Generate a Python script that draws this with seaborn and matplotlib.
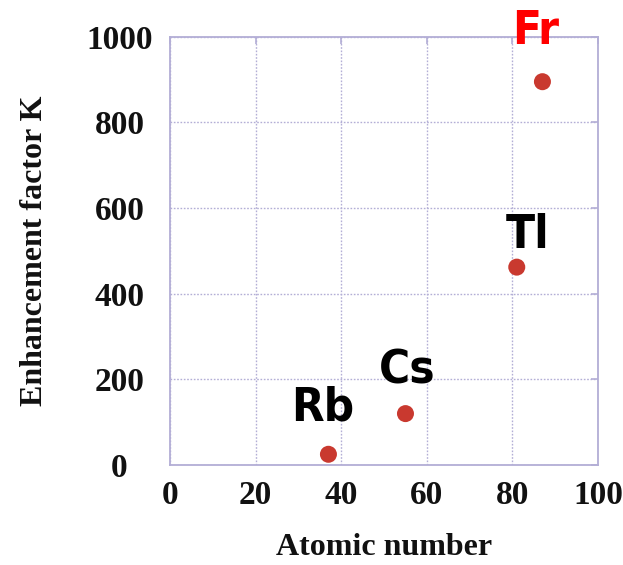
import matplotlib
matplotlib.use("Agg")
import matplotlib.pyplot as plt
import seaborn as sns
import pandas as pd

# Enhancement factor K versus atomic number
elements = ["Rb", "Cs", "Tl", "Fr"]
atomic_number = [37, 55, 81, 87]
enhancement = [25, 120, 462, 895]
label_colors = ["black", "black", "black", "#ff0000"]
# label anchor positions in data units (x, y)
label_x = [35.7, 55.4, 83.6, 85.3]
label_y = [133, 220, 537, 1013]

df = pd.DataFrame({"Z": atomic_number, "K": enhancement, "el": elements})

sns.set_theme(style="white")
plt.rcParams["font.family"] = ["Liberation Serif", "DejaVu Serif"]

frame = "#b3aed6"
fig = plt.figure(figsize=(6.23, 5.65), dpi=100)
ax = fig.add_axes([0.273, 0.177, 0.687, 0.758])

sns.scatterplot(data=df, x="Z", y="K", ax=ax, color="#c9392f", s=150,
                edgecolor="none", zorder=3, legend=False)

ax.set_xlim(0, 100)
ax.set_ylim(0, 1000)
ax.set_xticks([0, 20, 40, 60, 80, 100])
ax.set_yticks([0, 200, 400, 600, 800, 1000])
ax.grid(True, color=frame, linestyle=(0, (1.2, 1.2)), linewidth=1.0)
for sp in ax.spines.values():
    sp.set_color(frame)
    sp.set_linewidth(1.3)
ax.tick_params(axis="both", direction="in", length=5, width=1.2, color=frame,
               top=True, right=True, labelsize=24, labelcolor="#111111")
ax.tick_params(axis="x", pad=11)
ax.tick_params(axis="y", pad=36.5)
for lab in ax.get_xticklabels() + ax.get_yticklabels():
    lab.set_fontweight("bold")
for lab in ax.get_yticklabels():
    lab.set_horizontalalignment("center")

ax.set_xlabel("Atomic number", fontsize=23, fontweight="bold", labelpad=15.5,
              color="#111111")
ax.set_ylabel("Enhancement factor K", fontsize=23, fontweight="bold",
              labelpad=27, color="#111111")

for name, lx, ly, c in zip(elements, label_x, label_y, label_colors):
    ax.text(lx, ly, name, ha="center", va="center", fontsize=34,
            fontweight="bold", fontstretch="condensed", color=c,
            clip_on=False, family=["DejaVu Sans"])

fig.savefig("out.png", dpi=100)
